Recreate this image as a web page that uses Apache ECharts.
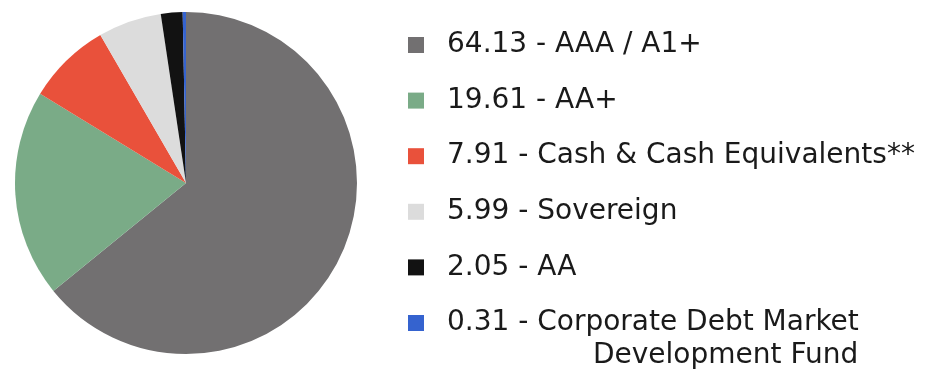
<!DOCTYPE html>
<html><head><meta charset="utf-8">
<script src="https://cdn.jsdelivr.net/npm/echarts@6/dist/echarts.min.js"></script>
<style>html,body{margin:0;padding:0;background:#fff}#c{width:933px;height:385px}</style>
</head><body><div id="c"></div>
<script>
const categories = ["AAA / A1+", "AA+", "Cash & Cash Equivalents**", "Sovereign", "AA", "Corporate Debt Market"];
const values = [64.13, 19.61, 7.91, 5.99, 2.05, 0.31];
const colors = ["#727071", "#7aab87", "#e9513b", "#dcdcdc", "#121212", "#3563cf"];
const extraLine = "Development Fund";

const chart = echarts.init(document.getElementById('c'));
const data = categories.map((c, i) => ({ name: c, value: values[i], itemStyle: { color: colors[i] } }));
chart.setOption({
  animation: false,
  legend: {
    orient: 'vertical',
    left: 403, top: 26, height: 380,
    itemWidth: 16, itemHeight: 16, itemGap: 27.6,
    icon: 'rect',
    textStyle: { fontFamily: 'DejaVu Sans', fontSize: 28, color: '#1a1a1a', padding: [0, 0, 0, 18], lineHeight: 26 },
    formatter: function (name) {
      const i = categories.indexOf(name);
      return values[i].toFixed(2) + ' - ' + name;
    },
    data: categories
  },
  graphic: [{
    type: 'text', left: 593, top: 342,
    style: { text: extraLine, fontFamily: 'DejaVu Sans', fontSize: 28, fill: '#1a1a1a' }
  }],
  series: [{
    type: 'pie',
    center: [186, 183],
    radius: 171,
    startAngle: 90,
    clockwise: true,
    label: { show: false },
    labelLine: { show: false },
    emphasis: { disabled: true },
    data: data
  }]
});
</script></body></html>
